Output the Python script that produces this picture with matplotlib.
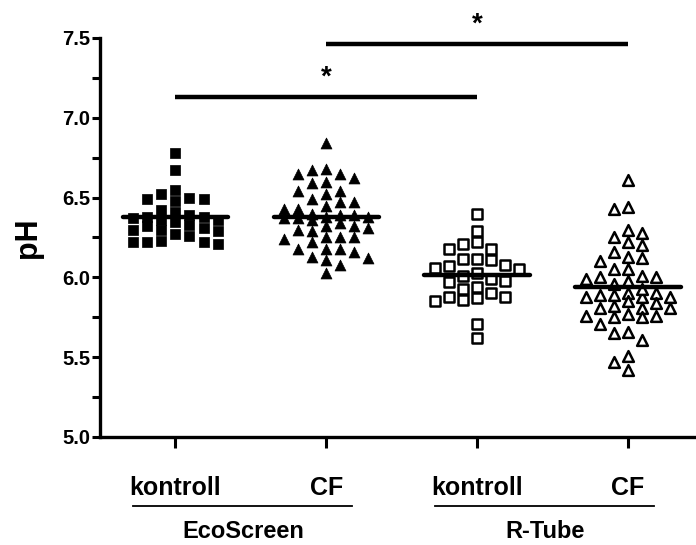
import numpy as np
import matplotlib
matplotlib.use("Agg")
import matplotlib.pyplot as plt
import matplotlib.transforms as mtransforms
from matplotlib.ticker import MultipleLocator, FormatStrFormatter

plt.rcParams["font.family"] = ["Liberation Sans", "DejaVu Sans"]
plt.rcParams["font.weight"] = "bold"

# ---- data -------------------------------------------------------------
tick_labels = ["kontroll", "CF", "kontroll", "CF"]
devices = ["EcoScreen", "R-Tube"]

eco_kontroll = [6.78, 6.67, 6.55, 6.52, 6.50, 6.49, 6.48, 6.49, 6.42, 6.41,
                6.39, 6.38, 6.37, 6.36, 6.35, 6.36, 6.38, 6.33, 6.31, 6.32,
                6.30, 6.29, 6.30, 6.27, 6.26, 6.22, 6.22, 6.21, 6.22, 6.23]
eco_cf = [6.84, 6.68, 6.65, 6.62, 6.65, 6.67, 6.60, 6.59, 6.54, 6.54,
          6.52, 6.47, 6.45, 6.43, 6.43, 6.47, 6.49, 6.39, 6.38, 6.37,
          6.37, 6.39, 6.38, 6.36, 6.40, 6.32, 6.32, 6.31, 6.34, 6.30,
          6.29, 6.25, 6.25, 6.22, 6.24, 6.25, 6.18, 6.16, 6.18, 6.18,
          6.11, 6.13, 6.12, 6.08, 6.03]
rtube_kontroll = [6.40, 6.29, 6.22, 6.18, 6.18, 6.21, 6.115, 6.11, 6.07, 6.05,
                  6.06, 6.08, 6.115, 6.03, 5.99, 5.97, 5.94, 5.98, 6.01, 5.93,
                  5.88, 5.86, 5.85, 5.87, 5.88, 5.90, 5.71, 5.62]
rtube_cf = [6.61, 6.43, 6.44, 6.28, 6.25, 6.30, 6.22, 6.20, 6.16, 6.13,
            6.10, 6.12, 6.05, 6.05, 6.01, 6.00, 5.98, 5.99, 6.00, 5.88,
            5.88, 5.90, 5.89, 5.88, 5.89, 5.90, 5.85, 5.82, 5.84, 5.81,
            5.81, 5.81, 5.76, 5.75, 5.75, 5.76, 5.77, 5.71, 5.65, 5.61,
            5.66, 5.51, 5.42, 5.47, 5.96, 5.93]

series = [eco_kontroll, eco_cf, rtube_kontroll, rtube_cf]

# significance comparisons: (group a, group b, bar height)
comparisons = [(1, 3, 7.13), (2, 4, 7.46)]

# ---- helpers ----------------------------------------------------------
def swarm_offsets(values, col_w=0.093, gap=0.068, max_col=3):
    """Column scatter: put each point in the nearest free column,
    limited to +-max_col columns (overlap allowed when all are taken)."""
    values = np.asarray(values, dtype=float)
    order = np.argsort(-values, kind="stable")
    cols = {}
    offs = np.zeros(len(values))

    def clearance(c, v):
        used = cols.get(c, [])
        return min((abs(v - u) for u in used), default=np.inf)

    for i in order:
        v = values[i]
        chosen = None
        for step in range(0, max_col + 1):
            if step == 0:
                cands = [0]
            else:
                nl = len(cols.get(-step, []))
                nr = len(cols.get(step, []))
                cands = [-step, step] if nl <= nr else [step, -step]
            for c in cands:
                if clearance(c, v) >= gap:
                    chosen = c
                    break
            if chosen is not None:
                break
        if chosen is None:
            allc = sorted(range(-max_col, max_col + 1), key=abs)
            chosen = max(allc, key=lambda c: clearance(c, v))
        cols.setdefault(chosen, []).append(v)
        offs[i] = chosen * col_w
    return offs


# ---- figure -----------------------------------------------------------
fig = plt.figure(figsize=(6.96, 5.45), dpi=100)
ax = fig.add_axes([100 / 696, 1 - 437 / 545, 596 / 696, 399 / 545])

styles = [
    dict(marker="s", s=52, facecolors="black", edgecolors="black", linewidths=0.5),
    dict(marker="^", s=62, facecolors="black", edgecolors="black", linewidths=0.5),
    dict(marker="s", s=52, facecolors="white", edgecolors="black", linewidths=1.8),
    dict(marker="^", s=60, facecolors="white", edgecolors="black", linewidths=1.8),
]

positions = np.arange(1, len(series) + 1)
for pos, vals, st in zip(positions, series, styles):
    vals = np.asarray(vals)
    offs = swarm_offsets(vals)
    ax.scatter(pos + offs, vals, zorder=3, clip_on=False, **st)
    m = vals.mean()
    ax.plot([pos - 0.35, pos + 0.35], [m, m], color="black", lw=3.2,
            solid_capstyle="round", zorder=4)

for a, b, h in comparisons:
    ax.plot([a, b], [h, h], color="black", lw=3.2, clip_on=False,
            solid_capstyle="butt", zorder=4)
    ax.text((a + b) / 2, h + 0.04, "*", ha="center", va="bottom",
            fontsize=20, fontweight="bold", clip_on=False)

ax.set_xlim(0.5, 4.45)
ax.set_ylim(5.0, 7.5)

ax.spines["top"].set_visible(False)
ax.spines["right"].set_visible(False)
for sp in ("left", "bottom"):
    ax.spines[sp].set_linewidth(2.4)

ax.yaxis.set_major_locator(MultipleLocator(0.5))
ax.yaxis.set_minor_locator(MultipleLocator(0.25))
ax.yaxis.set_major_formatter(FormatStrFormatter("%.1f"))
ax.tick_params(axis="y", which="both", direction="out", length=6, width=2.2,
               labelsize=14.5, pad=1)
ax.set_ylabel("pH", fontsize=22, fontweight="bold", labelpad=14)

ax.set_xticks(positions)
ax.set_xticklabels(tick_labels, fontsize=18, fontweight="bold")
ax.tick_params(axis="x", which="major", direction="out", length=8, width=2.2,
               pad=20)

# device group labels with underline
trans = mtransforms.blended_transform_factory(ax.transData, ax.transAxes)
for i, name in enumerate(devices):
    left, right = positions[2 * i], positions[2 * i + 1]
    ax.plot([left - 0.28, right + 0.17], [-0.173, -0.173], transform=trans,
            color="black", lw=1.3, clip_on=False)
    ax.text((left + right) / 2 - 0.05, -0.238, name, transform=trans,
            ha="center", va="center", fontsize=17, fontweight="bold")

fig.savefig("out.png", dpi=100)
